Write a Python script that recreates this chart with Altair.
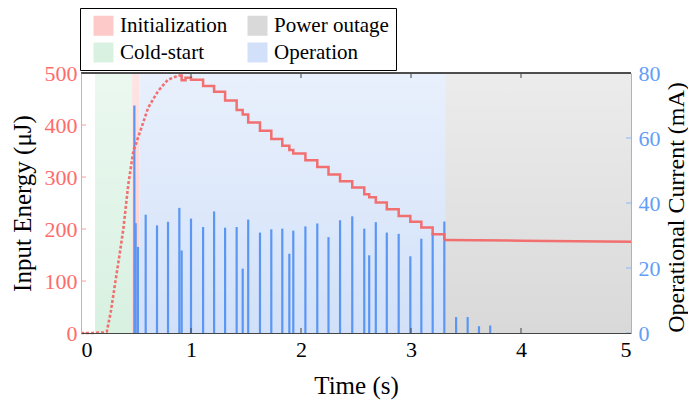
import altair as alt
import pandas as pd

FONT = "Liberation Serif"
RED = "#f26868"
RED_AXIS = "#ff9c9c"
RED_LABEL = "#ff6b6b"
BLUE = "#5b96f2"
BLUE_AXIS = "#8cb8f5"
BLUE_LABEL = "#629ef5"
DARK = "#454545"

# ---- phases (background bands) ----
band_names = ["Cold-start", "Initialization", "Operation", "Power outage"]
band_start = [0.127, 0.466, 0.53, 3.31]
band_end = [0.466, 0.53, 3.31, 5.0]
legend_order = ["Initialization", "Cold-start", "Power outage", "Operation"]
legend_colors = ["#fdc9c9", "#d8f1e1", "#d9d9d9", "#d2e1f9"]

# ---- input energy (uJ): rising phase (noisy / dashed) ----
rise_t = [0.0, 0.10, 0.20, 0.235, 0.27, 0.31, 0.35, 0.385, 0.43, 0.476, 0.55, 0.61, 0.70, 0.79, 0.885]
rise_e = [0, 0, 1, 3, 40, 95, 150, 200, 286, 350, 395, 433, 465, 487, 495]

# ---- input energy (uJ): stepped discharge ----
step_t = [0.885, 0.915, 0.95, 1.0, 1.11, 1.21, 1.31, 1.415, 1.47, 1.52, 1.627, 1.73, 1.83, 1.894,
          1.93, 2.04, 2.148, 2.25, 2.355, 2.466, 2.575, 2.62, 2.68, 2.78, 2.888, 2.994, 3.094,
          3.197, 3.303]
step_e = [495, 486, 491, 487, 475, 464, 447, 429, 420, 405, 389, 373, 360, 352,
          345, 332, 319, 305, 292, 280, 267, 261, 251, 238, 225, 214, 203,
          190, 179]

# ---- input energy (uJ): hold after power outage ----
hold_t = [3.303, 4.0, 5.0]
hold_e = [179, 177.5, 175.5]

# ---- operational current (mA) spikes ----
spike_t = [0.485, 0.497, 0.518, 0.588, 0.691, 0.791, 0.894, 0.915, 1.0, 1.11, 1.21, 1.31, 1.415,
           1.47, 1.52, 1.627, 1.73, 1.83, 1.894, 1.93, 2.04, 2.148, 2.25, 2.355, 2.466, 2.575,
           2.62, 2.68, 2.78, 2.888, 2.994, 3.094, 3.197, 3.303, 3.41, 3.515, 3.618, 3.72]
spike_ma = [70, 33.8, 26.5, 36.4, 33.1, 34.2, 38.5, 25.4, 35.2, 32.6, 37.4, 32.4, 32.6,
            19.8, 34.9, 30.9, 31.9, 32.1, 24.4, 31.5, 32.8, 33.7, 29.5, 34.7, 35.9, 32.1,
            23.9, 34.1, 30.9, 30.5, 23.6, 29.0, 30.9, 34.3, 4.9, 4.9, 2.1, 2.3]

# ---- tick values ----
x_ticks = [0, 1, 2, 3, 4, 5]
e_ticks = [0, 100, 200, 300, 400, 500]
c_ticks = [0, 20, 40, 60, 80]

bands_df = pd.DataFrame({"phase": band_names, "start": band_start, "end": band_end})
rise_df = pd.DataFrame({"t": rise_t, "e": rise_e})
step_df = pd.DataFrame({"t": step_t, "e": step_e})
hold_df = pd.DataFrame({"t": hold_t, "e": hold_e})
spike_df = pd.DataFrame({"t": spike_t, "ma": spike_ma})
xt_df = pd.DataFrame({"t": x_ticks[1:-1]})
et_df = pd.DataFrame({"v": e_ticks})
ct_df = pd.DataFrame({"v": c_ticks})

x_scale = alt.Scale(domain=[0, 5], nice=False, zero=False)
e_scale = alt.Scale(domain=[0, 500], nice=False)
c_scale = alt.Scale(domain=[0, 80], nice=False)

x_axis = alt.Axis(values=x_ticks, title="Time (s)", orient="bottom", ticks=False, grid=False,
                  domainColor=DARK, labelColor="black", labelFont=FONT, labelFontSize=22,
                  labelPadding=6, titleFont=FONT, titleFontSize=25, titleColor="black",
                  titleX=275, titleY=52, titleBaseline="middle", titleFontWeight="normal", zindex=1)
left_axis = alt.Axis(values=e_ticks, title="Input Energy (μJ)", orient="left", ticks=False, grid=False,
                     domainColor=RED_AXIS, labelColor=RED_LABEL, labelFont=FONT, labelFontSize=22,
                     labelPadding=4, titleFont=FONT, titleFontSize=25, titleColor="black",
                     titleAngle=270, titleX=-59, titleY=130, titleBaseline="middle",
                     titleAlign="center", titleFontWeight="normal", zindex=1)
right_axis = alt.Axis(values=c_ticks, title="Operational Current (mA)", orient="right", ticks=False,
                      grid=False, domainColor=BLUE_AXIS, labelColor=BLUE_LABEL, labelFont=FONT,
                      labelFontSize=22, labelPadding=7, titleFont=FONT, titleFontSize=24,
                      titleColor="black", titleAngle=270, titleX=45, titleY=134,
                      titleBaseline="middle", titleAlign="center", titleFontWeight="normal", zindex=1)

X = lambda f: alt.X(f, scale=x_scale, axis=x_axis)

bands = alt.Chart(bands_df).mark_rect().encode(
    x=X("start:Q"),
    x2="end:Q",
    color=alt.Color("phase:N", scale=alt.Scale(domain=legend_order, range=legend_colors),
                    legend=alt.Legend(orient="none", legendX=-1, legendY=-65, columns=2, title=None,
                                      symbolType="square", symbolSize=400, symbolStrokeWidth=0,
                                      symbolOpacity=1, labelFont=FONT, labelFontSize=21,
                                      labelColor="black", strokeColor="black", fillColor="white",
                                      padding=7, symbolOffset=6, columnPadding=6, rowPadding=5,
                                      labelOffset=6, gridAlign="all")),
)
glow = alt.Chart(bands_df).mark_rect(
    fill=alt.Gradient(gradient="linear",
                      stops=[alt.GradientStop(color="rgba(255,255,255,0.5)", offset=0),
                             alt.GradientStop(color="rgba(255,255,255,0)", offset=1)],
                      x1=0, x2=0, y1=0, y2=1)
).encode(x=X("start:Q"), x2="end:Q")

left_ticks = alt.Chart(et_df).mark_rule(color=RED_AXIS, strokeWidth=1).encode(
    y=alt.Y("v:Q", scale=e_scale, axis=left_axis), x=alt.value(0), x2=alt.value(5))

group_a = alt.layer(bands, glow, left_ticks)

spikes = alt.Chart(spike_df).mark_rule(color=BLUE, strokeWidth=2.2).encode(
    x=X("t:Q"), y=alt.Y("ma:Q", scale=c_scale, axis=right_axis), y2=alt.datum(0))
right_ticks = alt.Chart(ct_df).mark_rule(color=BLUE_AXIS, strokeWidth=1).encode(
    y=alt.Y("v:Q", scale=c_scale, axis=right_axis), x=alt.value(550), x2=alt.value(545))
group_b = alt.layer(spikes, right_ticks)

rise = alt.Chart(rise_df).mark_line(color=RED, strokeWidth=2.6, strokeDash=[3, 2], opacity=0.95).encode(
    x=X("t:Q"), y=alt.Y("e:Q", scale=e_scale, axis=None))
step = alt.Chart(step_df).mark_line(color=RED, strokeWidth=2.5, interpolate="step-after", opacity=0.95).encode(
    x=X("t:Q"), y=alt.Y("e:Q", scale=e_scale, axis=None))
hold = alt.Chart(hold_df).mark_line(color=RED, strokeWidth=2.5, opacity=0.95).encode(
    x=X("t:Q"), y=alt.Y("e:Q", scale=e_scale, axis=None))
bottom_ticks = alt.Chart(xt_df).mark_rule(color=DARK, strokeWidth=1).encode(
    x=X("t:Q"), y=alt.value(260), y2=alt.value(255))
top_ticks = alt.Chart(xt_df).mark_rule(color=DARK, strokeWidth=1).encode(
    x=X("t:Q"), y=alt.value(0), y2=alt.value(5))
top_border = alt.Chart(xt_df).mark_rule(color=DARK, strokeWidth=1).encode(
    x=alt.value(0), x2=alt.value(550), y=alt.value(0))
group_c = alt.layer(rise, step, hold, bottom_ticks, top_ticks, top_border)

chart = alt.layer(group_a, group_b, group_c).resolve_scale(y="independent").properties(
    width=550, height=260,
    padding={"left": 81, "top": 73, "right": 57, "bottom": 69},
    autosize=alt.AutoSizeParams(type="none"),
    background="white",
).configure_view(stroke=None).configure_axis(
    labelFont=FONT, titleFont=FONT
).configure_legend(labelFont=FONT)

chart.save("out.html", embed_options={"renderer": "svg", "actions": False})
